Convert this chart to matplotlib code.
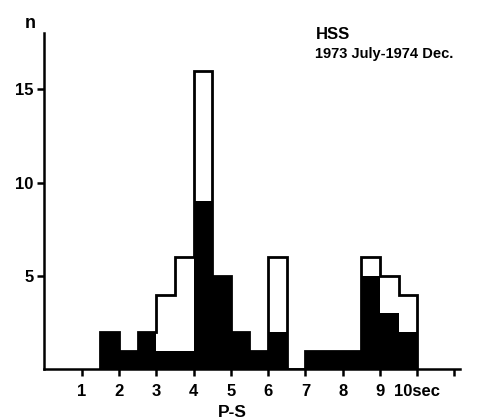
import matplotlib.pyplot as plt
import numpy as np

# P-S interval bins (left edges, 0.5 sec wide)
bin_left = [1.5, 2.0, 2.5, 3.0, 3.5, 4.0, 4.5, 5.0, 5.5, 6.0, 6.5,
            7.0, 7.5, 8.0, 8.5, 9.0, 9.5]
total_counts = [2, 1, 2, 4, 6, 16, 5, 2, 1, 6, 0, 1, 1, 1, 6, 5, 4]
black_counts = [2, 1, 2, 1, 1, 9, 5, 2, 1, 2, 0, 1, 1, 1, 5, 3, 2]

x_ticks = [1, 2, 3, 4, 5, 6, 7, 8, 9, 10, 11]
x_tick_labels = ["1", "2", "3", "4", "5", "6", "7", "8", "9", "10sec", ""]
y_ticks = [5, 10, 15]

width = 0.5
font = "Liberation Sans"

fig = plt.figure(figsize=(4.81, 4.20), dpi=100)
ax = fig.add_axes([0.0925, 0.121, 0.864, 0.80])

ax.bar(bin_left, black_counts, width=width, align="edge", color="black",
       edgecolor="black", linewidth=0)

# outline of total counts as a step line
edges = list(bin_left) + [bin_left[-1] + width]
ax.stairs(total_counts, edges, color="black", linewidth=2.0, baseline=0)

ax.set_xlim(0, 11.15)
ax.set_ylim(0, 18)

ax.spines["top"].set_visible(False)
ax.spines["right"].set_visible(False)
ax.spines["left"].set_linewidth(1.8)
ax.spines["bottom"].set_linewidth(1.8)

ax.set_xticks(x_ticks)
ax.set_xticklabels(x_tick_labels, fontsize=12, fontweight="bold", family=font)
ax.set_yticks(y_ticks)
ax.set_yticklabels([str(v) for v in y_ticks], fontsize=12, fontweight="bold", family=font)
ax.tick_params(axis="x", direction="out", length=5, width=1.8, pad=6)
ax.tick_params(axis="y", direction="out", length=5, width=1.8, pad=3)

ax.text(-0.38, 18.5, "n", fontsize=13, fontweight="bold", family=font,
        ha="center", va="center")
ax.text(5.05, -2.3, "P-S", fontsize=12.5, fontweight="bold", family=font,
        ha="center", va="center")
ax.text(7.28, 17.95, "HSS", fontsize=12, fontweight="bold", family=font,
        ha="left", va="center")
ax.text(7.25, 16.9, "1973 July-1974 Dec.", fontsize=10.5, fontweight="bold",
        family=font, ha="left", va="center")

fig.savefig("out.png", dpi=100)
